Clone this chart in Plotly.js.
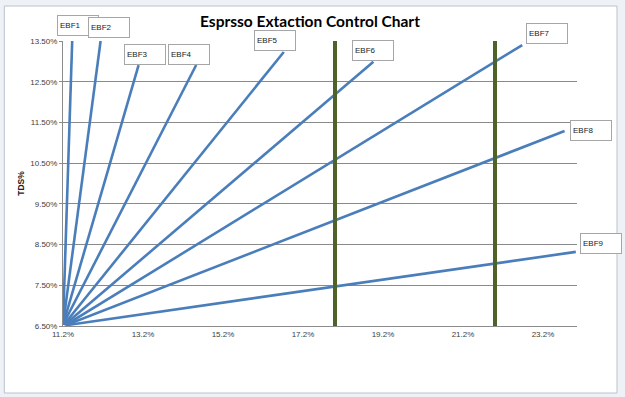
<!DOCTYPE html>
<html>
<head>
<meta charset="utf-8">
<script src="https://cdn.plot.ly/plotly-3.0.1.min.js"></script>
<style>
html,body{margin:0;padding:0;background:#eef1f5;}
#chart{width:625px;height:397px;}
</style>
</head>
<body>
<div id="chart"></div>
<script>
// ---- data ----
const seriesNames = ['EBF1','EBF2','EBF3','EBF4','EBF5','EBF6','EBF7','EBF8','EBF9'];
const startEY  = [11.2, 11.2, 11.2, 11.2, 11.22, 11.24, 11.26, 11.27, 11.28];
const startTDS = [6.53, 6.53, 6.53, 6.53, 6.53, 6.53, 6.52, 6.52, 6.52];
const endEY    = [11.43, 12.14, 13.09, 14.53, 16.72, 18.96, 22.68, 23.74, 24.02];
const endTDS   = [13.5, 13.5, 12.91, 12.91, 13.23, 12.99, 13.40, 11.29, 8.32];
const controlLimitsEY = [18, 22];
const tdsTicks = [6.5, 7.5, 8.5, 9.5, 10.5, 11.5, 12.5, 13.5];
const eyTicks  = [11.2, 13.2, 15.2, 17.2, 19.2, 21.2, 23.2];
const eyRange  = [11.2, 24.05];
const tdsRange = [6.5, 13.5];

// label box offsets (pixels) relative to each line end
const labelDX = [6, 8, 6, -7, -9, 0, 25, 26, 25];
const labelDY = [16, 14, 11, 11, 11, 11, 12, 0, 8];

// ---- traces ----
const traces = [];
for (let i = 0; i < seriesNames.length; i++) {
  traces.push({
    type: 'scatter', mode: 'lines', name: seriesNames[i],
    x: [startEY[i], endEY[i]], y: [startTDS[i], endTDS[i]],
    line: {color: '#4a7ebb', width: 2.6}, hoverinfo: 'skip'
  });
}
controlLimitsEY.forEach(v => {
  traces.push({
    type: 'scatter', mode: 'lines', x: [v, v], y: tdsRange,
    line: {color: '#4f6228', width: 4}, hoverinfo: 'skip'
  });
});

const annotations = seriesNames.map((n, i) => ({
  x: endEY[i], y: endTDS[i], xref: 'x', yref: 'y',
  text: n, showarrow: false, xanchor: 'center', yanchor: 'middle',
  xshift: labelDX[i], yshift: labelDY[i],
  width: 36, height: 15, align: 'left', valign: 'middle',
  bgcolor: '#ffffff', bordercolor: '#a6a6a6', borderwidth: 1, borderpad: 2,
  font: {family: 'Liberation Sans, Arial, sans-serif', size: 8, color: '#222'}
}));

// frame (chart area) in paper coords
const L = 62.7, R = 48, T = 41, B = 71, W = 625, H = 397;
const pw = W - L - R, ph = H - T - B;
const px = v => (v - L) / pw;
const py = v => (H - B - v) / ph;

const layout = {
  width: W, height: H,
  paper_bgcolor: '#eef1f5', plot_bgcolor: 'rgba(0,0,0,0)',
  margin: {l: L, r: R, t: T, b: B, pad: 0},
  showlegend: false,
  title: {
    text: '<b>Esprsso Extaction Control Chart</b>',
    x: 0.496, xanchor: 'center', y: 0.945, yanchor: 'middle',
    font: {family: 'Lato, Liberation Sans, sans-serif', size: 15.5, color: '#000'}
  },
  xaxis: {
    range: eyRange, tickvals: eyTicks,
    ticktext: eyTicks.map(v => v.toFixed(1) + '%'),
    showgrid: false, zeroline: false,
    showline: true, linecolor: '#8c8c8c', linewidth: 1,
    ticks: '', tickfont: {family: 'Liberation Sans, Arial, sans-serif', size: 8, color: '#404040'}
  },
  yaxis: {
    range: tdsRange, tickvals: tdsTicks,
    ticktext: tdsTicks.map(v => v.toFixed(2) + '%'),
    showgrid: true, gridcolor: '#8a8a8a', gridwidth: 1, zeroline: false,
    showline: true, linecolor: '#8c8c8c', linewidth: 1,
    ticks: 'outside', ticklen: 3, tickcolor: '#8c8c8c',
    tickfont: {family: 'Liberation Sans, Arial, sans-serif', size: 8, color: '#404040'},
    title: {text: '<b>TDS%</b>', standoff: 4,
      font: {family: 'Liberation Sans, Arial, sans-serif', size: 8.5, color: '#222'}}
  },
  shapes: [{
    type: 'rect', xref: 'paper', yref: 'paper', layer: 'below',
    x0: px(4), x1: px(617), y0: py(393), y1: py(6),
    fillcolor: '#ffffff', line: {color: '#b9c3cf', width: 1}
  }],
  annotations: annotations
};

Plotly.newPlot('chart', traces, layout, {displayModeBar: false, staticPlot: true});
</script>
</body>
</html>
